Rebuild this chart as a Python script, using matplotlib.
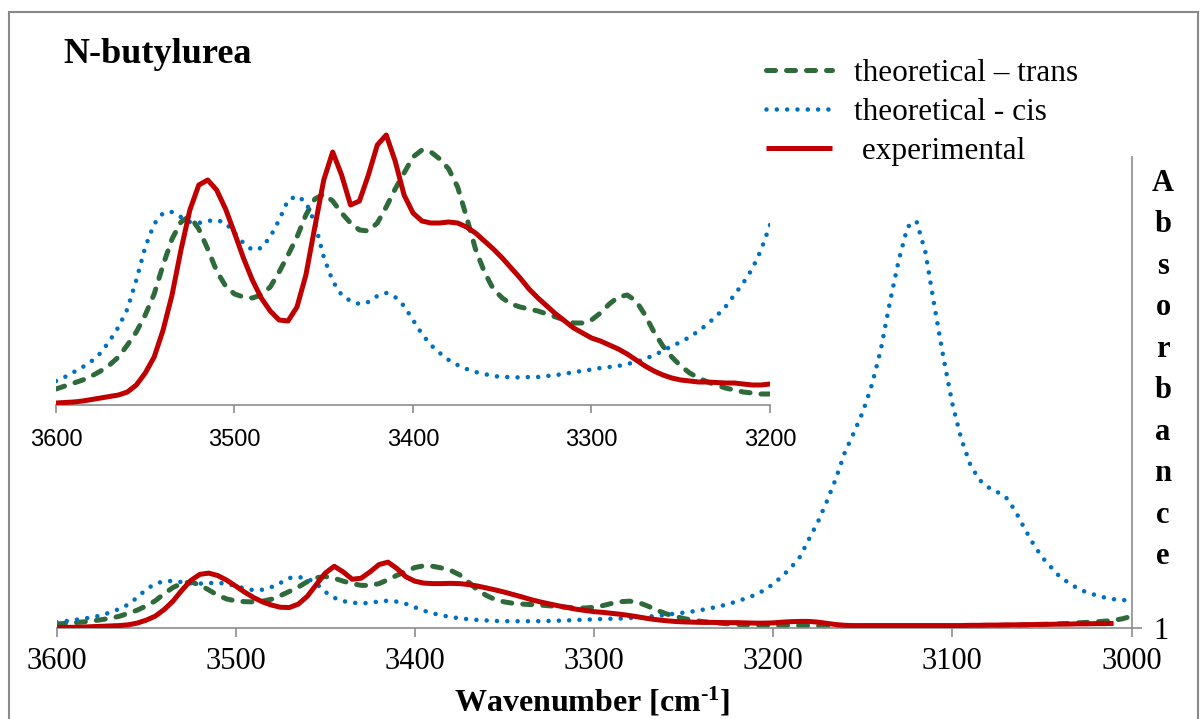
import numpy as np
import matplotlib
matplotlib.use("Agg")
import matplotlib.pyplot as plt
from matplotlib.patches import Rectangle

# ---- spectra (N-butylurea, N-H stretching region) ----
wavenumber = np.arange(3600, 2999, -5)  # cm^-1, 5 cm^-1 sampling

experimental = np.array([
    1.002, 1.0025, 1.003, 1.004, 1.0055, 1.007, 1.0085, 1.010, 1.013, 1.020,
    1.032, 1.048, 1.075, 1.110, 1.155, 1.195, 1.220, 1.225, 1.215, 1.196,
    1.172, 1.147, 1.125, 1.107, 1.094, 1.085, 1.084, 1.098, 1.130, 1.178,
    1.225, 1.253, 1.230, 1.200, 1.204, 1.230, 1.260, 1.270, 1.244, 1.210,
    1.192, 1.184, 1.182, 1.182, 1.183, 1.182, 1.178, 1.172, 1.164, 1.156,
    1.147, 1.137, 1.127, 1.116, 1.107, 1.099, 1.091, 1.084, 1.077, 1.072,
    1.067, 1.064, 1.060, 1.056, 1.051, 1.045, 1.039, 1.034, 1.030, 1.027,
    1.025, 1.024, 1.023, 1.023, 1.0225, 1.022, 1.022, 1.021, 1.020, 1.020,
    1.021, 1.024, 1.026, 1.027, 1.027, 1.024, 1.019, 1.014, 1.011, 1.010,
    1.010, 1.010, 1.010, 1.010, 1.010, 1.010, 1.010, 1.010, 1.010, 1.010,
    1.010, 1.010, 1.011, 1.011, 1.012, 1.012, 1.013, 1.013, 1.014, 1.014,
    1.015, 1.015, 1.016, 1.016, 1.017, 1.017, 1.018, 1.018, 1.019, np.nan,
    np.nan,
])

theoretical_trans = np.array([
    1.016, 1.019, 1.022, 1.025, 1.029, 1.034, 1.040, 1.048, 1.060, 1.073,
    1.090, 1.111, 1.140, 1.166, 1.183, 1.189, 1.176, 1.156, 1.134, 1.119,
    1.111, 1.108, 1.107, 1.110, 1.118, 1.133, 1.150, 1.168, 1.190, 1.206,
    1.211, 1.204, 1.192, 1.182, 1.175, 1.174, 1.182, 1.198, 1.216, 1.232,
    1.248, 1.255, 1.253, 1.246, 1.236, 1.218, 1.188, 1.156, 1.133, 1.116,
    1.107, 1.101, 1.098, 1.096, 1.094, 1.091, 1.088, 1.085, 1.082, 1.082,
    1.085, 1.092, 1.101, 1.108, 1.110, 1.104, 1.090, 1.073, 1.059, 1.048,
    1.039, 1.032, 1.027, 1.023, 1.020, 1.017, 1.015, 1.013, 1.012, 1.011,
    1.011, 1.011, 1.010, 1.010, 1.010, 1.009, 1.007, 1.005, 1.004, 1.004,
    1.004, 1.004, 1.004, 1.004, 1.004, 1.004, 1.004, 1.004, 1.004, 1.004,
    1.004, 1.004, 1.004, 1.004, 1.004, 1.005, 1.006, 1.008, 1.010, 1.012,
    1.014, 1.016, 1.017, 1.019, 1.021, 1.023, 1.025, 1.028, 1.031, 1.038,
    1.048,
])

theoretical_cis = np.array([
    1.024, 1.028, 1.033, 1.038, 1.044, 1.052, 1.064, 1.078, 1.096, 1.125,
    1.158, 1.181, 1.192, 1.193, 1.188, 1.183, 1.182, 1.184, 1.185, 1.182,
    1.172, 1.162, 1.155, 1.157, 1.168, 1.185, 1.205, 1.209, 1.203, 1.182,
    1.148, 1.124, 1.110, 1.104, 1.101, 1.103, 1.109, 1.112, 1.108, 1.099,
    1.085, 1.071, 1.060, 1.052, 1.045, 1.040, 1.036, 1.033, 1.031, 1.029,
    1.028, 1.028, 1.0275, 1.028, 1.028, 1.029, 1.030, 1.031, 1.033, 1.034,
    1.0355, 1.037, 1.038, 1.039, 1.041, 1.043, 1.046, 1.050, 1.054, 1.059,
    1.063, 1.068, 1.074, 1.081, 1.089, 1.098, 1.110, 1.122, 1.136, 1.155,
    1.180, 1.212, 1.248, 1.292, 1.365, 1.435, 1.520, 1.612, 1.720, 1.800,
    1.885, 1.995, 2.138, 2.330, 2.505, 2.645, 2.668, 2.540, 2.320, 2.110,
    1.920, 1.775, 1.670, 1.608, 1.577, 1.558, 1.535, 1.482, 1.412, 1.347,
    1.291, 1.250, 1.210, 1.185, 1.162, 1.146, 1.135, 1.125, 1.118, 1.115,
    1.111,
])

x_ticks_main = [3600, 3500, 3400, 3300, 3200, 3100, 3000]
x_ticks_zoom = [3600, 3500, 3400, 3300, 3200]

# ---- styling ----
SERIF = "Liberation Serif"
SANS = "Liberation Sans"
AXIS_GREY = "#8c8c8c"
C_TRANS = "#2f6a3a"
C_CIS = "#0070c0"
C_EXP = "#c00000"

plt.rcParams["mathtext.fontset"] = "custom"
plt.rcParams["mathtext.rm"] = "Liberation Serif:bold"
plt.rcParams["mathtext.bf"] = "Liberation Serif:bold"
plt.rcParams["mathtext.default"] = "bf"

W, H = 1204, 719
fig = plt.figure(figsize=(W / 100, H / 100), dpi=100)


def px_box(x0, y0, x1, y1):
    """Pixel box (top-left origin) -> figure-fraction rect."""
    return [x0 / W, 1 - y1 / H, (x1 - x0) / W, (y1 - y0) / H]


def draw_series(ax):
    trans, = ax.plot(wavenumber, theoretical_trans, color=C_TRANS, lw=3.6,
                     linestyle=(0, (1.8, 2.2)), dash_capstyle="round",
                     dash_joinstyle="round",
                     label="theoretical \u2013 trans", zorder=2)
    cis, = ax.plot(wavenumber, theoretical_cis, color=C_CIS, lw=3.3,
                   linestyle=(0, (0.001, 2.25)), dash_capstyle="round",
                   label="theoretical - cis", zorder=2)
    exp, = ax.plot(wavenumber, experimental, color=C_EXP, lw=3.6,
                   solid_capstyle="butt", solid_joinstyle="round",
                   label=" experimental", zorder=3)
    return [trans, cis, exp]


# ---- main axes: full range, absorbance axis on the right ----
ax = fig.add_axes(px_box(56.5, 157, 1131.5, 628))
handles = draw_series(ax)
ax.set_xlim(3600, 3000)
ax.set_ylim(1, 2.931)
for side in ("left", "top"):
    ax.spines[side].set_visible(False)
for side in ("bottom", "right"):
    ax.spines[side].set_color(AXIS_GREY)
    ax.spines[side].set_linewidth(1.2)
ax.set_xticks(x_ticks_main)
ax.set_xticklabels([str(t) for t in x_ticks_main], fontfamily=SERIF, fontsize=22)
ax.set_yticks([1])
ax.set_yticklabels(["1"], fontfamily=SERIF, fontsize=22)
ax.yaxis.tick_right()
ax.tick_params(axis="x", direction="out", length=6.5, width=1.2,
               color=AXIS_GREY, pad=7.5)
ax.tick_params(axis="y", direction="out", length=7, width=1.2,
               color=AXIS_GREY, pad=9)
ax.patch.set_visible(False)

fig.text(592 / W, 1 - 711 / H, r"Wavenumber [cm$^{\text{-}1}$]", ha="center",
         va="baseline", fontfamily=SERIF, fontweight="bold", fontsize=23)

fig.text(1163 / W, 1 - 370 / H, "\n".join("Absorbance"), ha="center",
         va="center", multialignment="center", fontfamily=SERIF,
         fontweight="bold", fontsize=22, linespacing=1.57)

# ---- zoomed inset: 3600-3200 cm^-1 ----
axz = fig.add_axes(px_box(56, 120, 770, 405))
draw_series(axz)
axz.set_xlim(3600, 3200)
axz.set_ylim(1, 1.285)
for side in ("left", "top", "right"):
    axz.spines[side].set_visible(False)
axz.spines["bottom"].set_color(AXIS_GREY)
axz.spines["bottom"].set_linewidth(1.2)
axz.set_xticks(x_ticks_zoom)
axz.set_xticklabels([str(t) for t in x_ticks_zoom], fontfamily=SANS, fontsize=17)
axz.set_yticks([])
axz.tick_params(axis="x", direction="out", length=6, width=1.2,
                color=AXIS_GREY, pad=11)
axz.patch.set_visible(False)

# ---- title, legend, outer frame ----
fig.text(63 / W, 1 - 62.7 / H, "N-butylurea", ha="left", va="baseline",
         fontfamily=SERIF, fontweight="bold", fontsize=26)

fig.legend(handles=handles, loc="upper left",
           bbox_to_anchor=(766 / W, 1 - 59 / H), frameon=False,
           prop={"family": SERIF, "size": 22.5}, handlelength=2.1,
           handletextpad=0.72, labelspacing=0.32, borderpad=0,
           borderaxespad=0)

fig.patches.append(Rectangle((9 / W, 1 - 730 / H), (1198 - 9) / W, (730 - 12) / H,
                             transform=fig.transFigure, fill=False,
                             edgecolor="#8a8a8a", linewidth=1.5))

fig.savefig("out.png", dpi=100)
